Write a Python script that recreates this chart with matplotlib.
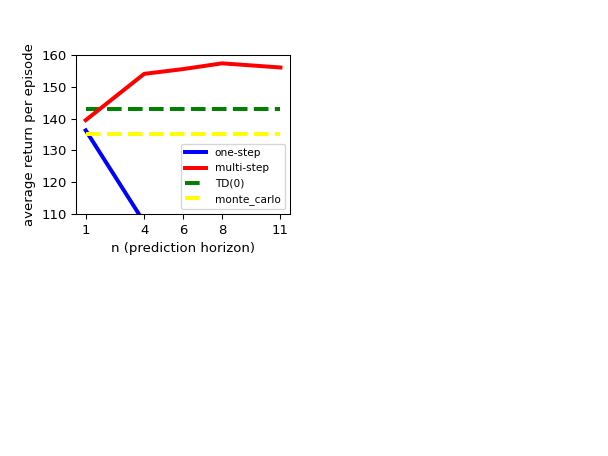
import matplotlib
matplotlib.use("Agg")
import matplotlib.pyplot as plt

n_values = [1, 4, 6, 8, 11]
one_step = [136.3, 107.5, 100.0, 95.0, 90.0]
multi_step = [139.5, 154.0, 155.5, 157.3, 156.0]
td0 = 143.0
monte_carlo = 135.3
xticks = [1, 4, 6, 8, 11]

fig = plt.figure(figsize=(6.4, 4.8), dpi=95)
ax = fig.add_subplot(2, 2, 1)
ax.plot(n_values, one_step, color="blue", lw=3, label="one-step", zorder=2)
ax.plot(n_values, multi_step, color="red", lw=3, label="multi-step", zorder=4)
ax.plot(n_values, [td0] * len(n_values), "--", color="green", lw=3, label="TD(0)", zorder=3)
ax.plot(n_values, [monte_carlo] * len(n_values), "--", color="yellow", lw=3, label="monte_carlo", zorder=3)
ax.set_ylim(110, 160)
ax.set_xticks(xticks)
ax.set_xlabel("n (prediction horizon)")
ax.set_ylabel("average return per episode")
ax.legend(loc="lower right", fontsize=8)
fig.savefig("out.png", dpi=95)
